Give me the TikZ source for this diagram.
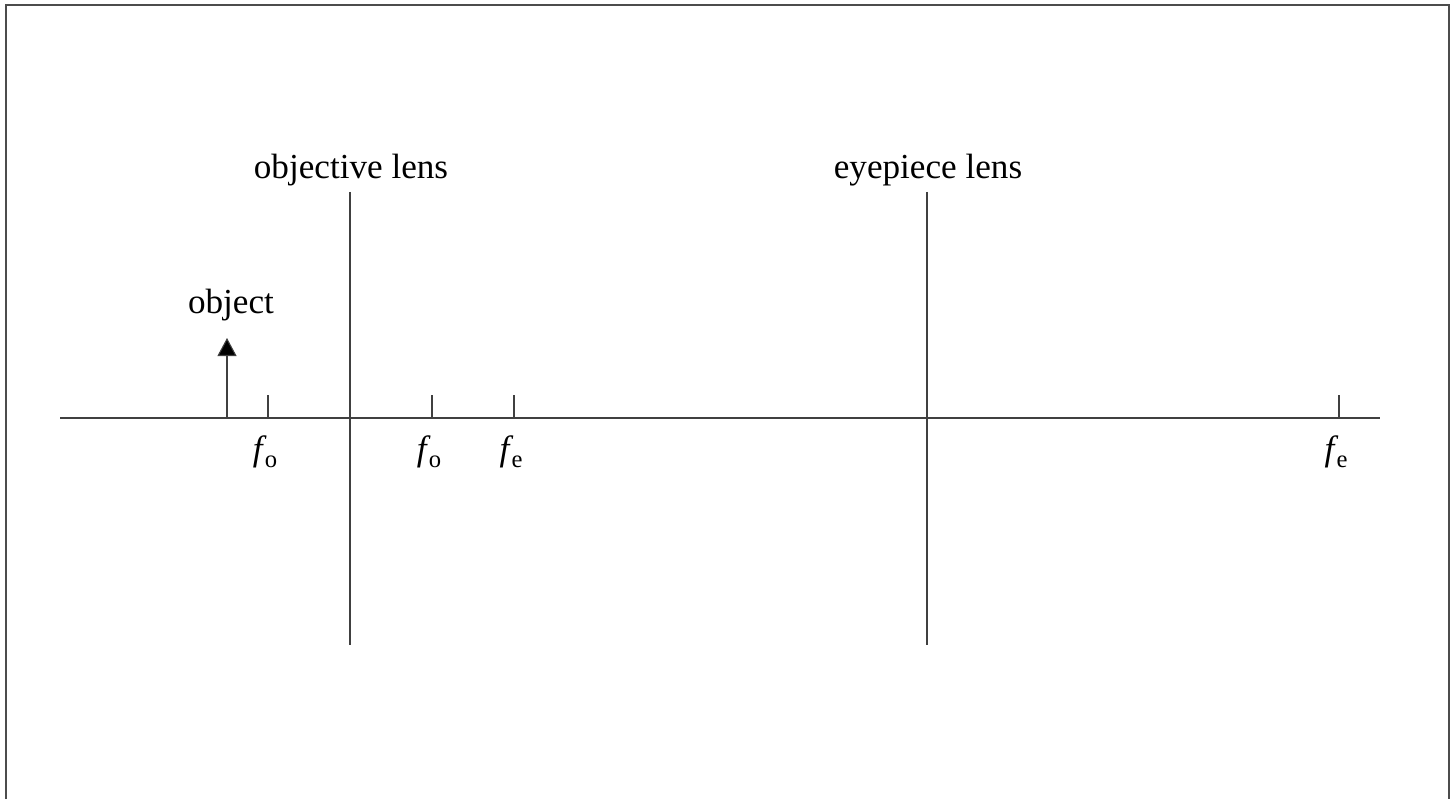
\documentclass[tikz,border=0pt]{standalone}
\usepackage{fontspec}
\setmainfont{Liberation Serif}
\usetikzlibrary{arrows.meta,positioning}
\tikzstyle{line}=[draw=black!75,line width=0.3pt]
\tikzstyle{frame}=[draw=black!70,line width=0.6pt]
\tikzstyle{label}=[inner sep=0pt,font=\fontsize{10}{12}\selectfont]

\begin{document}
\begin{tikzpicture}[x=0.1mm,y=-0.1mm]
  \useasboundingbox (0,0) rectangle (1454,799);
  \draw[frame] (6,799) -- (6,5) -- (1449,5) -- (1449,799);

  % optical axis
  \coordinate (axis start) at (60,418);
  \coordinate (axis end) at (1380,418);
  \draw[line] (axis start) -- (axis end);

  \foreach \pos/\name in {350/objective,927/eyepiece} {
    \coordinate (\name\space top) at (\pos,192);
    \coordinate (\name\space bottom) at (\pos,645);
    \draw[line] (\name\space top) -- (\name\space bottom);
    \node[label] (\name\space label) at (\pos+1,170) {\name\space lens};
  }

  % focal points
  \foreach \pos/\sub in {268/o,432/o,514/e,1339/e} {
    \coordinate (\pos\space top) at (\pos,395);
    \coordinate (\pos\space foot) at (\pos,418);
    \draw[line] (\pos\space top) -- (\pos\space foot);
    \node[label] (\pos\space label) at (\pos-3,452)
      {\textit{f}\kern-0.05em\raisebox{-0.4ex}{\fontsize{7}{9}\selectfont\sub}};
  }

  \coordinate (object base) at (227,418);
  \coordinate (object tip) at (227,338);
  \draw[line,-{Triangle[width=1.9mm,length=1.8mm,fill=black]}] (object base) -- (object tip);
  \node[label] (object label) at (231,305) {object};
\end{tikzpicture}
\end{document}
